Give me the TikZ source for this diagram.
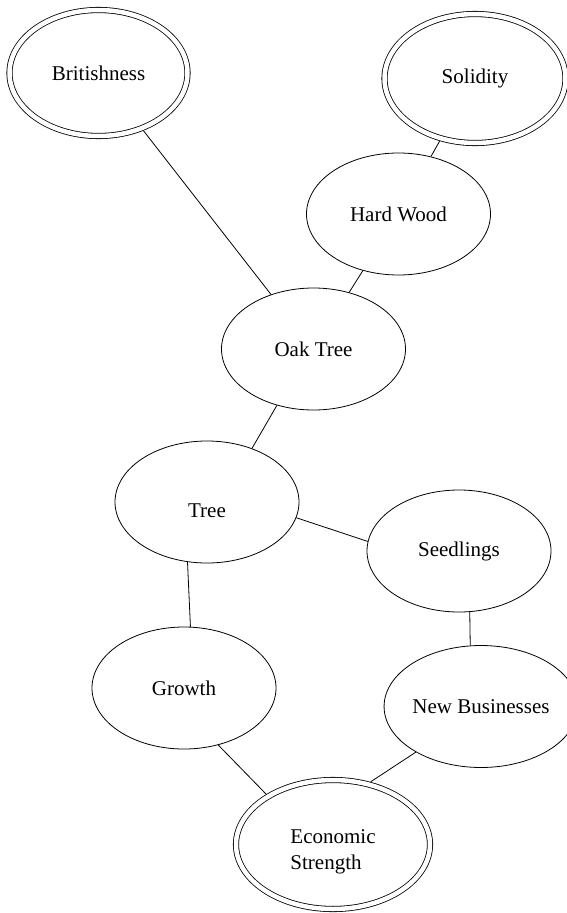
\documentclass[tikz,border=0pt]{standalone}
\usepackage{fontspec}
\setmainfont{Liberation Serif}
\usetikzlibrary{shapes}
\tikzset{
	node_c/.style = {
		ellipse,
		draw=black,
		align=center,
		inner sep=0pt,
		line width=0.8pt,
		minimum width=184pt,
		minimum height=122pt
	},
	node_cd/.style = {
		node_c,
		double,
		double distance=4.5pt,
		outer sep=3.2pt,
		minimum width=178pt,
		minimum height=126pt
	},
}

\begin{document}
\begin{tikzpicture}[x=1pt,y=-1pt,line width=0.8pt,font=\fontsize{21}{26}\selectfont]
\useasboundingbox (0,0) rectangle (566,913);
\node [node_cd] (brit) at (98.5,73) {Britishness};
\node [node_cd, minimum width=181pt, minimum height=129pt] (solid) at (475,78.5) {Solidity};
\node [node_c] (hard) at (398.5,214) {Hard Wood};
\node [node_c] (oak) at (313.5,349) {Oak Tree};
\node [node_c, label={[yshift=-9pt]center:Tree}] (tree) at (207,502) {};
\node [node_c] (seed) at (459,551) {Seedlings};
\node [node_c] (growth) at (184,688) {Growth};
\node [node_c, minimum width=188pt] (newb) at (481,706.5) {New Businesses};
\node [node_cd, minimum width=194pt, minimum height=129pt,
	label={[align=left,yshift=-7pt]center:Economic\\Strength}] (econ) at (333,844.5) {};

\draw (brit) -- (oak);
\draw (solid) -- (hard);
\draw (hard) -- (oak);
\draw (oak.-123) -- (tree.50);
\draw (tree.-10) -- (seed.174);
\draw (tree.-108) -- (growth.84);
\draw (seed.-80) -- (newb.100);
\draw (growth.-59) -- (econ.143);
\draw (newb.-145) -- (econ.59);
\end{tikzpicture}
\end{document}
